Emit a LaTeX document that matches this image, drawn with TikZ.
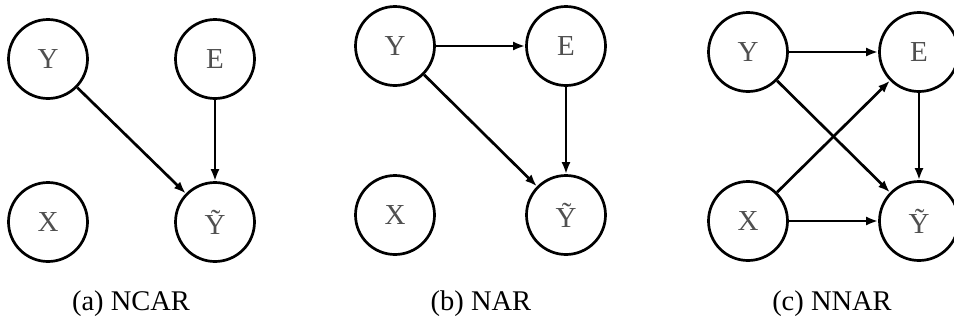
\documentclass[tikz,border=0pt]{standalone}
\usepackage{fontspec}
\setmainfont{Liberation Serif}
\usetikzlibrary{arrows.meta}
\definecolor{lab}{HTML}{505050}
\begin{document}
\begin{tikzpicture}[x=1pt,y=-1pt,
  var/.style={circle,draw=black,line width=2.7pt,minimum size=79pt,inner sep=0pt,text=lab,font=\fontsize{29}{31}\selectfont},
  edge/.style={line width=2.7pt,-{Latex[length=12pt,width=9pt]}},
  captext/.style={anchor=base,font=\fontsize{28.5}{30}\selectfont,text=black}]
\useasboundingbox (0,0) rectangle (954,322);
% (a)
\node[var] (aY) at (48,59) {Y};
\node[var] (aE) at (215,59) {E};
\node[var] (aX) at (48,222) {X};
\node[var] (aT) at (215,222) {Ỹ};
\draw[edge] (aY) -- (aT);
\draw[edge] (aE) -- (aT);
\node[captext] (ca) at (131,310) {(a) NCAR};
% (b)
\node[var] (bY) at (395,46) {Y};
\node[var] (bE) at (566,46) {E};
\node[var] (bX) at (395,215) {X};
\node[var] (bT) at (566,215) {Ỹ};
\draw[edge] (bY) -- (bE);
\draw[edge] (bY) -- (bT);
\draw[edge] (bE) -- (bT);
\node[captext] (cb) at (481,310) {(b) NAR};
% (c)
\node[var] (cY) at (748,52) {Y};
\node[var] (cE) at (919,52) {E};
\node[var] (cX) at (748,221) {X};
\node[var] (cT) at (919,221) {Ỹ};
\draw[edge] (cY) -- (cE);
\draw[edge] (cY) -- (cT);
\draw[edge] (cX) -- (cE);
\draw[edge] (cX) -- (cT);
\draw[edge] (cE) -- (cT);
\node[captext] (cc) at (832,310) {(c) NNAR};
\end{tikzpicture}
\end{document}
